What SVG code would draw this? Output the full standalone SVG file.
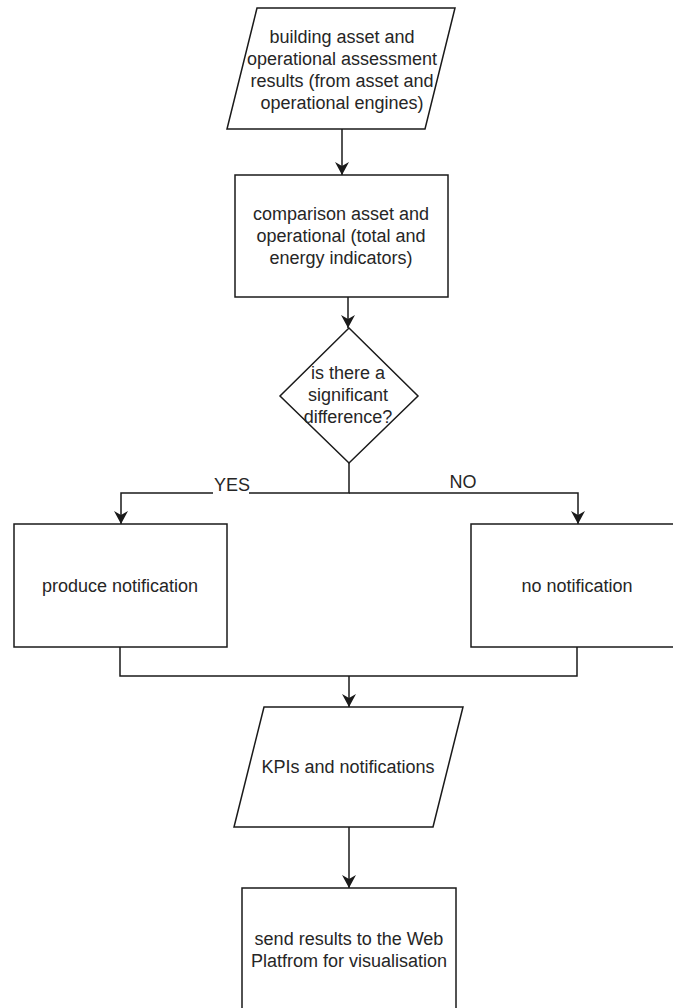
<svg xmlns="http://www.w3.org/2000/svg" width="673" height="1008" viewBox="0 0 673 1008">
  <style>
    .shape { fill: #ffffff; stroke: #1a1a1a; stroke-width: 1.5; }
    .edge { fill: none; stroke: #1a1a1a; stroke-width: 1.5; }
    .label { font-family: "Liberation Sans", Arial, sans-serif; font-size: 18px; fill: #262626; text-anchor: middle; }
  </style>
  <defs>
    <marker id="arrow" viewBox="0 0 13 14" refX="13" refY="7" markerWidth="13" markerHeight="14" markerUnits="userSpaceOnUse" orient="auto">
      <path d="M0,0 L13,7 L0,14 L4,7 Z" fill="#1a1a1a"/>
    </marker>
  </defs>
  <rect width="673" height="1008" fill="#ffffff"/>

  <!-- connectors -->
  <g id="connectors">
    <path class="edge" d="M342,129 L342,175" marker-end="url(#arrow)"/>
    <path class="edge" d="M348,297 L348,328" marker-end="url(#arrow)"/>
    <path class="edge" d="M349,463 L349,493 L121,493 L121,524" marker-end="url(#arrow)"/>
    <path class="edge" d="M349,493 L578,493 L578,524" marker-end="url(#arrow)"/>
    <path class="edge" d="M120,647 L120,676 L577,676 L577,647"/>
    <path class="edge" d="M349,676 L349,707" marker-end="url(#arrow)"/>
    <path class="edge" d="M349,827 L349,888" marker-end="url(#arrow)"/>
    <rect x="213" y="475" width="36" height="20" fill="#ffffff"/>
    <text class="label" x="232" y="491">YES</text>
    <text class="label" x="463" y="488">NO</text>
  </g>

  <g id="input-results">
    <polygon class="shape" points="257,8 455,8 425,129 227,129"/>
    <text class="label" x="342" y="43">building asset and</text>
    <text class="label" x="342" y="65">operational assessment</text>
    <text class="label" x="342" y="87">results (from asset and</text>
    <text class="label" x="342" y="109">operational engines)</text>
  </g>

  <g id="comparison">
    <rect class="shape" x="235" y="175" width="213" height="122"/>
    <text class="label" x="341" y="220">comparison asset and</text>
    <text class="label" x="341" y="242">operational (total and</text>
    <text class="label" x="341" y="264">energy indicators)</text>
  </g>

  <g id="decision">
    <polygon class="shape" points="349,328 418,396 349,463 280,396"/>
    <text class="label" x="348" y="379">is there a</text>
    <text class="label" x="348" y="401">significant</text>
    <text class="label" x="348" y="423">difference?</text>
  </g>

  <g id="produce-notification">
    <rect class="shape" x="14" y="524" width="213" height="123"/>
    <text class="label" x="120" y="592">produce notification</text>
  </g>

  <g id="no-notification">
    <rect class="shape" x="471" y="524" width="213" height="123"/>
    <text class="label" x="577" y="592">no notification</text>
  </g>

  <g id="kpis">
    <polygon class="shape" points="264,707 463,707 433,827 234,827"/>
    <text class="label" x="348" y="773">KPIs and notifications</text>
  </g>

  <g id="send-results">
    <rect class="shape" x="242" y="888" width="214" height="124"/>
    <text class="label" x="349" y="945">send results to the Web</text>
    <text class="label" x="349" y="967">Platfrom for visualisation</text>
  </g>
</svg>
